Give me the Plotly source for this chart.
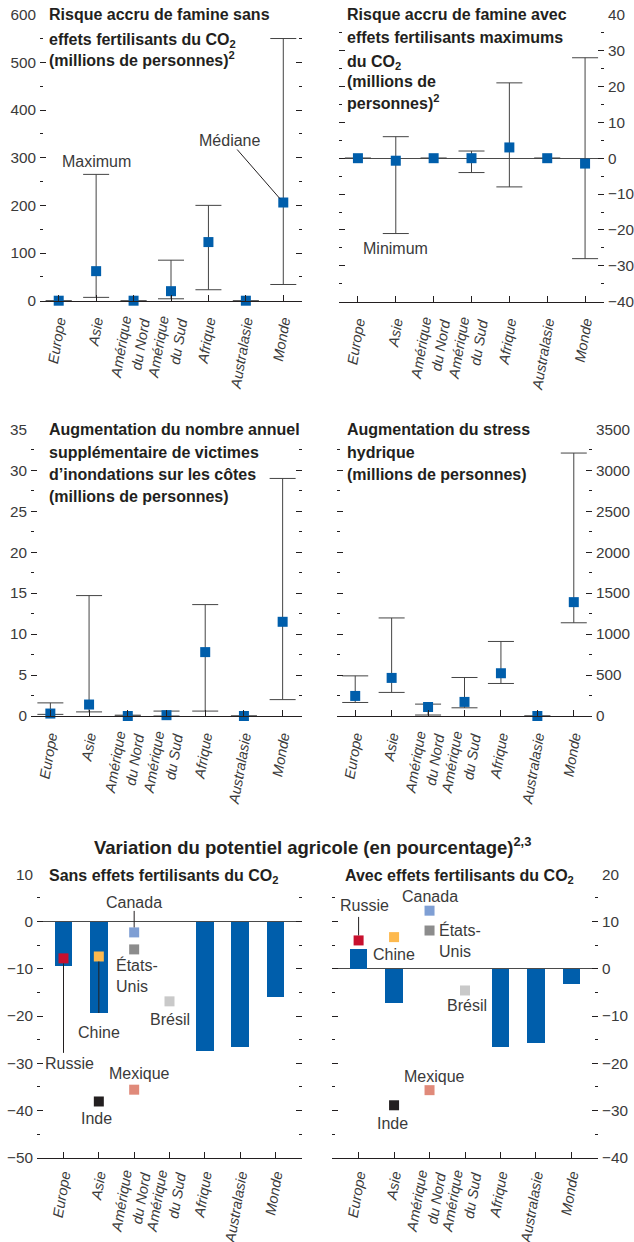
import plotly.graph_objects as go

W, H = 634, 1242

# ---- data -----------------------------------------------------------------
regions = ["Europe", "Asie", "Amérique<br>du Nord", "Amérique<br>du Sud",
           "Afrique", "Australasie", "Monde"]

# risque de famine sans effets fertilisants du CO2 (millions)
famine_sans_med = [0, 62, 0, 20, 123, 0, 206]
famine_sans_min = [0, 7, 0, 4, 23, 0, 34]
famine_sans_max = [0, 265, 0, 85, 200, 0, 550]

# risque de famine avec effets fertilisants maximums du CO2 (millions)
famine_avec_med = [0, -0.7, 0, 0, 3, 0, -1.5]
famine_avec_min = [0, -21, 0, -4, -8, 0, -28]
famine_avec_max = [0, 6, 0, 2, 21, 0, 28]

# victimes d'inondations cotieres (millions)
inond_med = [0.3, 1.4, 0, 0.1, 7.8, 0, 11.5]
inond_min = [0.2, 0.5, 0, 0, 0.6, 0, 2.0]
inond_max = [1.6, 14.7, 0.1, 0.6, 13.6, 0, 29.0]

# stress hydrique (millions)
stress_med = [245, 465, 110, 172, 522, 0, 1390]
stress_min = [165, 288, 12, 100, 397, 0, 1138]
stress_max = [490, 1197, 145, 470, 910, 0, 3210]

# potentiel agricole (%)
agri_sans = [-9.5, -19.4, None, None, -27.5, -26.6, -16.0]
agri_avec = [4.1, -7.3, None, None, -16.6, -15.7, -3.3]

pays = ["Russie", "Chine", "Inde", "Canada", "États-Unis", "Mexique", "Brésil"]
pays_region = ["Europe", "Asie", "Asie", "Amérique<br>du Nord", "Amérique<br>du Nord",
               "Amérique<br>du Nord", "Amérique<br>du Sud"]
pays_sans = [-7.8, -7.4, -38.1, -2.3, -5.9, -35.6, -16.9]
pays_avec = [6.0, 6.7, -28.9, 12.3, 8.1, -25.7, -4.6]
pays_labels = ["Russie", "Chine", "Inde", "Canada", "États-<br>Unis", "Mexique", "Brésil"]
pays_couleurs = ["#c8102e", "#fdb94e", "#231f20", "#7f9fd4", "#8c8c8c", "#e08a7a", "#c9c9c9"]

# ---- style ----------------------------------------------------------------
BLUE = "#005eab"
INK = "#231f20"
GREY = "#3a3a3a"
FONT = "Liberation Sans, Arial, sans-serif"


def px(x):
    return x / W


def py(y):
    return 1 - y / H


fig = go.Figure()

# panel geometry in pixels: (left, right), (top, bottom)
panels = {
    1: dict(x=(40, 302), y=(14.7, 300.7), yr=[0, 600], dt=100, side="left", xr=[-0.5, 6.5], zero=False, so=5),
    2: dict(x=(339, 604), y=(14.7, 301.7), yr=[-40, 40], dt=10, side="right", xr=[-0.5, 6.5], zero=True, so=5),
    3: dict(x=(31, 302), y=(429.3, 716), yr=[0, 35], dt=5, side="left", xr=[-0.5, 6.5], zero=False, so=5),
    4: dict(x=(337, 592), y=(429.3, 716), yr=[0, 3500], dt=500, side="right", xr=[-0.5, 6.5], zero=False, so=5),
    5: dict(x=(37, 302), y=(874.3, 1157.7), yr=[-50, 10], dt=10, side="left", xr=[-0.75, 6.75], zero=True, so=2),
    6: dict(x=(332, 598), y=(874.3, 1157.7), yr=[-40, 20], dt=10, side="right", xr=[-0.75, 6.75], zero=True, so=2),
}

for n, p in panels.items():
    s = "" if n == 1 else str(n)
    fig.layout["xaxis" + s] = dict(
        domain=[px(p["x"][0]), px(p["x"][1])], anchor="y" + s, automargin=False,
        type="category", categoryorder="array", categoryarray=regions,
        range=p["xr"], showline=True, linecolor=INK, linewidth=1.3,
        ticks="inside", ticklen=6, tickcolor=INK, tickwidth=1,
        tickangle=-80, tickfont=dict(family=FONT, size=14.5, color=GREY, style="italic"),
        ticklabelstandoff=p["so"],
        showgrid=False, zeroline=False,
    )
    fig.layout["yaxis" + s] = dict(
        domain=[py(p["y"][1]), py(p["y"][0])], anchor="x" + s, automargin=False,
        range=p["yr"], dtick=p["dt"], tick0=0, side=p["side"],
        ticks="inside", ticklen=6, tickcolor=INK, tickwidth=1, mirror="ticks",
        minor=dict(dtick=p["dt"] / 2, ticks="inside", ticklen=3, tickcolor=INK, tickwidth=1),
        showline=False, showgrid=False,
        zeroline=p["zero"], zerolinecolor="#4a4a4a", zerolinewidth=1,
        tickfont=dict(family=FONT, size=15.3, color=GREY),
        ticklabelstandoff=3,
    )


def err_trace(n, med, lo, hi):
    s = "" if n == 1 else str(n)
    fig.add_trace(go.Scatter(
        x=regions, y=med, mode="markers",
        marker=dict(symbol="square", size=10, color=BLUE),
        error_y=dict(type="data", symmetric=False,
                     array=[h - m for h, m in zip(hi, med)],
                     arrayminus=[m - l for m, l in zip(med, lo)],
                     width=13, thickness=1, color="#444444"),
        xaxis="x" + s, yaxis="y" + s, cliponaxis=False, showlegend=False,
    ))


err_trace(1, famine_sans_med, famine_sans_min, famine_sans_max)
err_trace(2, famine_avec_med, famine_avec_min, famine_avec_max)
err_trace(3, inond_med, inond_min, inond_max)
err_trace(4, stress_med, stress_min, stress_max)

for n, vals in ((5, agri_sans), (6, agri_avec)):
    fig.add_trace(go.Bar(x=regions, y=vals, width=0.5, marker=dict(color=BLUE, line_width=0),
                         xaxis=f"x{n}", yaxis=f"y{n}", showlegend=False))

for n, vals in ((5, pays_sans), (6, pays_avec)):
    for reg, v, c in zip(pays_region, vals, pays_couleurs):
        fig.add_trace(go.Scatter(x=[reg], y=[v], mode="markers",
                                 marker=dict(symbol="square", size=10, color=c),
                                 xaxis=f"x{n}", yaxis=f"y{n}", cliponaxis=False, showlegend=False))


# ---- texts ----------------------------------------------------------------
def title_line(text, x, base, size=16, sub=False, anchor="left"):
    if sub:
        y, ya = base - 0.905 * size, "top"
    else:
        y, ya = base + 0.212 * size, "bottom"
    fig.add_annotation(text=f"<b>{text}</b>", x=px(x), y=py(y), xref="paper", yref="paper",
                       xanchor=anchor, yanchor=ya, showarrow=False, borderpad=0,
                       font=dict(family=FONT, size=size, color=INK))


title_line("Risque accru de famine sans", 48, 21)
title_line("effets fertilisants du CO<sub>2</sub>", 48, 44, sub=True)
title_line("(millions de personnes)<sup>2</sup>", 48, 67)

title_line("Risque accru de famine avec", 346, 21)
title_line("effets fertilisants maximums", 346, 44)
title_line("du CO<sub>2</sub>", 346, 66, sub=True)
title_line("(millions de", 346, 88)
title_line("personnes)<sup>2</sup>", 346, 110)

title_line("Augmentation du nombre annuel", 48, 436)
title_line("supplémentaire de victimes", 48, 458.3)
title_line("d’inondations sur les côtes", 48, 480.7)
title_line("(millions de personnes)", 48, 503)

title_line("Augmentation du stress", 346, 436)
title_line("hydrique", 346, 458.3)
title_line("(millions de personnes)", 346, 481)

title_line("Variation du potentiel agricole (en pourcentage)<sup>2,3</sup>", 312, 855, size=18.5,
           anchor="center")
title_line("Sans effets fertilisants du CO<sub>2</sub>", 48, 880, sub=True)
title_line("Avec effets fertilisants du CO<sub>2</sub>", 344, 880, sub=True)

LABEL = dict(family=FONT, size=16, color=GREY)


def label(n, x, y, text, xs=0, ys=0, xa="center"):
    s = "" if n == 1 else str(n)
    fig.add_annotation(text=text, x=x, y=y, xref="x" + s, yref="y" + s, xshift=xs, yshift=ys,
                       xanchor=xa, showarrow=False, align="left", font=LABEL, borderpad=0)


def leader(n, x, y, ay, ax=0, text="", standoff=5):
    s = "" if n == 1 else str(n)
    fig.add_annotation(text=text, x=x, y=y, xref="x" + s, yref="y" + s, ax=ax, ay=ay,
                       showarrow=True, arrowhead=0, arrowwidth=1, arrowcolor=INK,
                       standoff=standoff, font=LABEL, borderpad=0)


label(1, regions[1], famine_sans_max[1], "Maximum", ys=13)
leader(1, regions[6], famine_sans_med[6], ay=-62, ax=-54, text="Médiane")
label(2, regions[1], famine_avec_min[1], "Minimum", ys=-15)

# country labels: (xshift, yshift, xanchor) per panel
offs5 = {"Russie": (6, -105, "center"), "Chine": (0, -76, "center"), "Inde": (-2, -17, "center"),
         "Canada": (0, 30, "center"), "États-Unis": (-19, -26, "left"), "Mexique": (5, 16, "center"),
         "Brésil": (0, -18, "center")}
offs6 = {"Russie": (6, 35, "center"), "Chine": (0, -17, "center"), "Inde": (-2, -18, "center"),
         "Canada": (0, 14, "center"), "États-Unis": (8, -10, "left"), "Mexique": (5, 14, "center"),
         "Brésil": (2, -15, "center")}
lines5 = {"Russie": 95, "Chine": 57, "Canada": -22}
lines6 = {"Russie": -24}

for n, vals, offs, lines in ((5, pays_sans, offs5, lines5), (6, pays_avec, offs6, lines6)):
    for name, lab, reg, v in zip(pays, pays_labels, pays_region, vals):
        xs, ys, xa = offs[name]
        label(n, reg, v, lab, xs=xs, ys=ys, xa=xa)
        if name in lines:
            leader(n, reg, v, ay=lines[name])

fig.update_layout(
    width=W, height=H, margin=dict(l=0, r=0, t=0, b=0, autoexpand=False),
    paper_bgcolor="white", plot_bgcolor="white",
    showlegend=False, bargap=0,
    font=dict(family=FONT, color=INK),
)

# the page body has a default 8px margin; remove it so the figure fills the window
fig.write_html("out.html", config={"displayModeBar": False, "staticPlot": True},
               post_script="document.body.style.margin='0';document.body.style.overflow='hidden';")
